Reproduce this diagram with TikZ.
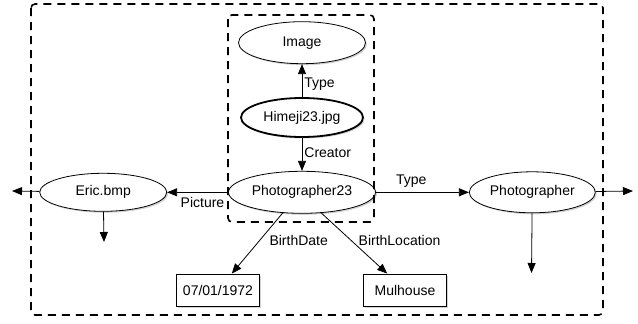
\documentclass[tikz,border=0pt]{standalone}
\usepackage{fontspec}
\setmainfont{Liberation Sans}
\usetikzlibrary{arrows.meta, positioning, shapes.geometric, shadows}

\begin{document}
\begin{tikzpicture}[x=1pt, y=-1pt, node distance=33pt,
    every node/.style={font=\fontsize{14}{16}\selectfont},
    res/.style={ellipse, draw, line width=0.8pt, inner sep=0pt, fill=white,
      drop shadow={shadow xshift=1.5pt, shadow yshift=-1.5pt, opacity=0.35}},
    lit/.style={rectangle, draw, line width=0.8pt, minimum width=83pt, minimum height=32pt, fill=white,
      drop shadow={shadow xshift=1.5pt, shadow yshift=-1.5pt, opacity=0.35}},
    prop/.style={-{Triangle[length=10pt, width=8pt]}, line width=0.8pt},
    group/.style={dashed, dash pattern=on 8pt off 6pt, line width=1.6pt, rounded corners=4pt}]
    \useasboundingbox (0,0) rectangle (638,324);
    % resources
    \node[res, line width=1.8pt, minimum width=122pt, minimum height=39pt] (himeji) at (302,117.5) {Himeji23.jpg};
    \node[res, above=of himeji, minimum width=127pt, minimum height=42pt] (image) {Image};
    \node[res, below=of himeji, minimum width=147pt, minimum height=42pt] (phot23) {Photographer23};
    \node[res, left=61pt of phot23, minimum width=127pt, minimum height=38pt] (eric) {Eric.bmp};
    \node[res, right=93pt of phot23, minimum width=126pt, minimum height=41pt] (photclass) {Photographer};
    % literals
    \node[lit] (bdate) at (218,290) {07/01/1972};
    \node[lit] (bloc) at (405,290) {Mulhouse};
    % loose ends
    \coordinate (ericout) at (12,191);
    \coordinate (ericdown) at (104,242);
    \coordinate (photout) at (633,191);
    \coordinate (photdown) at (531.5,273);
    % properties
    \draw[prop] (himeji) -- node[pos=0.4, anchor=west, inner sep=2pt] {Type} (image);
    \draw[prop] (himeji) -- node[pos=0.45, anchor=west, inner sep=2pt] {Creator} (phot23);
    \draw[prop] (phot23) -- node[pos=0.42, below=1pt] {Picture} (eric);
    \draw[prop] (phot23) -- node[pos=0.38, above=1pt] {Type} (photclass);
    \draw[prop] (phot23.227) -- node[pos=0.45, anchor=west, xshift=6pt] {BirthDate} (bdate);
    \draw[prop] (phot23.313) -- node[pos=0.45, anchor=west, xshift=4pt] {BirthLocation} (bloc);
    \draw[prop] (eric) -- (ericout);
    \draw[prop] (eric) -- (ericdown);
    \draw[prop] (photclass) -- (photout);
    \draw[prop] (photclass) -- (photdown);
    % graphs
    \draw[group] (31,4) rectangle (603,315);
    \draw[group] (228,15) rectangle (374,222);
\end{tikzpicture}
\end{document}
